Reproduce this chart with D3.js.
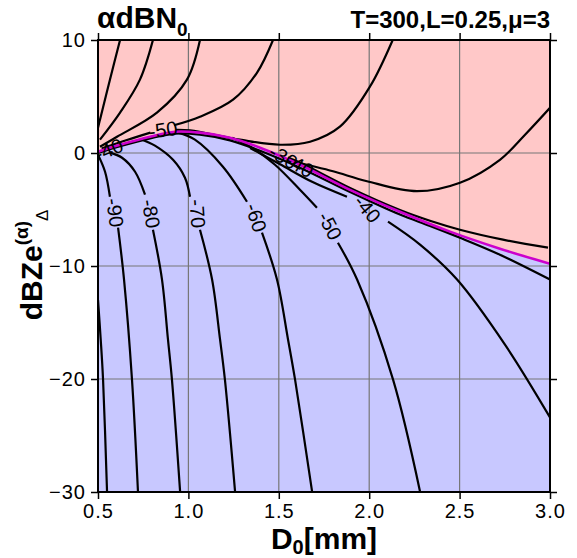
<!DOCTYPE html>
<html lang="en">
<head>
  <meta charset="UTF-8">
  <title>alpha dBN0 contours</title>
  <script src="https://cdn.jsdelivr.net/npm/d3@7"></script>
  <style>
    body { margin: 0; background: #fff; }
    svg text { font-family: "Liberation Sans", Arial, sans-serif; fill: #000; }
  </style>
</head>
<body>
  <svg id="chart" width="577" height="558"></svg>

  <script>
    // axis ticks
    const xTicks = [0.5, 1.0, 1.5, 2.0, 2.5, 3.0];
    const yTicks = [10, 0, -10, -20, -30];
    const xGrid = [1.0, 1.5, 2.0, 2.5];
    const yGrid = [0, -10, -20];

    // magenta curve, also the pink / blue boundary  [D0, dBZe]
    const magentaLine = [[0.5,0.12],[0.622,0.73],[0.788,1.44],[0.926,1.88],[1.064,1.8],[1.23,1.35],
      [1.396,0.47],[1.617,-1.04],[1.894,-3.26],[2.17,-5.2],[2.447,-6.96],[2.723,-8.47],[3.0,-9.8]];

    // black contours, each a list of pieces (gaps where the labels sit)
    const cUnder = [[[0.5,0.0],[0.622,0.6],[0.788,1.3],[0.926,1.72],[1.064,1.62],[1.23,1.12],[1.396,0.2],
      [1.617,-1.3],[1.894,-3.45],[2.17,-5.45],[2.336,-6.45],[2.502,-7.5],[2.723,-9.0],[3.0,-11.2]]];
    const cAbove = [[[1.55,-0.4],[1.617,-0.85],[1.894,-3.1],[2.17,-5.05],[2.336,-6.0],[2.502,-6.79],
      [2.74,-7.67],[2.989,-8.38]]];
    const c100 = [[[0.5,-13.0],[0.515,-16.5],[0.528,-20.06],[0.55,-29.95]]];
    const c90 = [[[0.5,-0.15],[0.539,-1.66],[0.566,-3.87]],
      [[0.611,-6.61],[0.644,-11.2],[0.688,-20.06],[0.721,-29.95]]];
    const c80 = [[[0.566,0.03],[0.633,-0.42],[0.705,-1.66],[0.76,-3.69]],
      [[0.804,-6.79],[0.854,-11.2],[0.887,-16.5],[0.909,-20.06],[0.954,-29.95]]];
    const c70 = [[[0.732,1.27],[0.815,0.65],[0.915,-0.6],[0.981,-2.19],[1.009,-3.87]],
      [[1.064,-6.79],[1.131,-11.2],[1.175,-16.5],[1.202,-20.06],[1.258,-29.95]]];
    const c60 = [[[0.942,1.8],[1.036,1.18],[1.191,-1.21],[1.324,-4.31]],
      [[1.407,-7.05],[1.49,-11.2],[1.551,-16.5],[1.59,-20.06],[1.684,-29.95]]];
    const c50 = [[[1.241,1.35],[1.352,0.47],[1.479,-1.04],[1.617,-3.25],[1.711,-4.84]],
      [[1.827,-7.94],[1.933,-11.2],[2.132,-20.06],[2.281,-29.95]]];
    const c40 = [[[1.341,0.45],[1.507,-1.0],[1.684,-2.55],[1.877,-3.87]],
      [[2.104,-6.08],[2.281,-8.11],[2.486,-11.2],[2.751,-16.96],[3.0,-23.4]]];

    // contours in the pink part
    const p1 = [[[0.622,10],[0.566,6.49],[0.511,2.95],[0.5,2.24]]];
    const p2 = [[[0.804,10],[0.732,6.49],[0.622,3.57],[0.511,1.18]]];
    const p3 = [[[1.064,10],[0.992,6.49],[0.826,3.57],[0.605,1.44],[0.511,0.55]]];
    const p4 = [[[1.468,10],[1.379,7.1],[1.247,4.72],[1.064,3.21],[0.92,2.45]],
      [[0.79,1.8],[0.66,1.15],[0.52,0.4]]];
    const p5 = [[[2.13,10],[2.004,5.87],[1.838,2.33],[1.673,1.0],[1.507,0.73],[1.285,1.18],[1.009,2.0],[0.93,2.05]]];
    const p6 = [[[3.0,4.0],[2.862,1.62],[2.723,-0.6],[2.502,-2.63],[2.264,-3.38],[1.988,-2.5],[1.8,-1.62],
      [1.617,-0.88],[1.55,-0.55]]];

    const contours = [cUnder, cAbove, c100, c90, c80, c70, c60, c50, c40, p1, p2, p3, p4, p5, p6];

    // contour labels: text, anchor [D0, dBZe], rotation
    const labelText = ["-90", "-80", "-70", "-60", "-50", "-40", "-50", "-40", "-30", "-40"];
    const labelAt = [[0.594,-5.28],[0.793,-5.37],[1.05,-5.37],[1.374,-5.72],[1.783,-6.45],[1.99,-4.95],
      [0.86,2.05],[0.56,0.3],[1.525,-0.35],[1.615,-1.1]];
    const labelAngle = [82, 80, 86, 72, 62, 50, -8, -22, 30, 30];

    const svg = d3.select("#chart");
    const x = d3.scaleLinear().domain([0.5, 3.0]).range([98, 550]);
    const y = d3.scaleLinear().domain([-30, 10]).range([492, 40]);

    svg.append("defs").append("clipPath").attr("id", "plot")
      .append("rect")
      .attr("x", x(0.5)).attr("y", y(10))
      .attr("width", x(3.0) - x(0.5)).attr("height", y(-30) - y(10));

    const g = svg.append("g").attr("clip-path", "url(#plot)");

    // blue everywhere, pink above the magenta curve
    g.append("rect")
      .attr("x", x(0.5)).attr("y", y(10))
      .attr("width", x(3.0) - x(0.5)).attr("height", y(-30) - y(10))
      .attr("fill", "#c8c8ff");

    g.append("path")
      .datum(magentaLine)
      .attr("d", d3.area()
        .x(d => x(d[0]))
        .y0(d => y(d[1]))
        .y1(y(10))
        .curve(d3.curveCatmullRom))
      .attr("fill", "#ffc8c8");

    // grid
    g.selectAll(".gx").data(xGrid).join("line")
      .attr("x1", d => x(d)).attr("x2", d => x(d))
      .attr("y1", y(10)).attr("y2", y(-30))
      .attr("stroke", "#777").attr("stroke-width", 1.2);
    g.selectAll(".gy").data(yGrid).join("line")
      .attr("y1", d => y(d)).attr("y2", d => y(d))
      .attr("x1", x(0.5)).attr("x2", x(3.0))
      .attr("stroke", "#777").attr("stroke-width", 1.2);

    const line = d3.line()
      .x(d => x(d[0]))
      .y(d => y(d[1]))
      .curve(d3.curveCatmullRom);

    contours.forEach(c => {
      c.forEach(piece => {
        g.append("path")
          .datum(piece)
          .attr("d", line)
          .attr("fill", "none")
          .attr("stroke", "#000")
          .attr("stroke-width", 2.2);
      });
    });

    g.append("path")
      .datum(magentaLine)
      .attr("d", line)
      .attr("fill", "none")
      .attr("stroke", "#cc00cc")
      .attr("stroke-width", 2.6);

    labelText.forEach((t, i) => {
      g.append("text")
        .attr("transform", `translate(${x(labelAt[i][0])},${y(labelAt[i][1])}) rotate(${labelAngle[i]})`)
        .attr("text-anchor", "middle")
        .attr("dy", "0.35em")
        .style("font-size", "20px")
        .text(t);
    });

    // frame
    svg.append("rect")
      .attr("x", x(0.5)).attr("y", y(10))
      .attr("width", x(3.0) - x(0.5)).attr("height", y(-30) - y(10))
      .attr("fill", "none").attr("stroke", "#000").attr("stroke-width", 2);

    // axes (ticks outward on all four sides)
    const styleAxis = sel => {
      sel.select(".domain").remove();
      sel.selectAll(".tick line").attr("stroke", "#000").attr("stroke-width", 1.5);
      sel.selectAll(".tick text").style("font-size", "20px").style("font-family", '"Liberation Sans", Arial, sans-serif')
        .attr("fill", "#000").style("letter-spacing", "1px");
    };

    svg.append("g").attr("transform", `translate(0,${y(-30)})`)
      .call(d3.axisBottom(x).tickValues(xTicks).tickFormat(d3.format(".1f")).tickSize(7).tickPadding(5))
      .call(styleAxis);
    svg.append("g").attr("transform", `translate(0,${y(10)})`)
      .call(d3.axisTop(x).tickValues(xTicks).tickFormat("").tickSize(7))
      .call(styleAxis);
    svg.append("g").attr("transform", `translate(${x(0.5)},0)`)
      .call(d3.axisLeft(y).tickValues(yTicks).tickFormat(d3.format("d")).tickSize(7).tickPadding(5))
      .call(styleAxis);
    svg.append("g").attr("transform", `translate(${x(3.0)},0)`)
      .call(d3.axisRight(y).tickValues(yTicks).tickFormat("").tickSize(7))
      .call(styleAxis);

    // titles
    const t1 = svg.append("text").attr("x", 97).attr("y", 28)
      .style("font-size", "30px").style("font-weight", "bold");
    t1.append("tspan").text("αdBN");
    t1.append("tspan").attr("dy", 8).style("font-size", "19px").text("0");

    svg.append("text").attr("x", 550).attr("y", 28)
      .attr("text-anchor", "end")
      .style("font-size", "24px").style("font-weight", "bold")
      .text("T=300,L=0.25,μ=3");

    const xt = svg.append("text").attr("x", 324).attr("y", 549)
      .attr("text-anchor", "middle")
      .style("font-size", "30px").style("font-weight", "bold");
    xt.append("tspan").text("D");
    xt.append("tspan").attr("dy", 5).style("font-size", "20px").text("0");
    xt.append("tspan").attr("dy", -5).text("[mm]");

    const yt = svg.append("text")
      .attr("transform", "translate(42,265) rotate(-90)")
      .attr("text-anchor", "middle")
      .style("font-size", "30px").style("font-weight", "bold");
    yt.append("tspan").text("dBZe");
    yt.append("tspan").attr("dy", -14).style("font-size", "19px").text("(α)");
    yt.append("tspan").attr("dy", 20).style("font-size", "17px").style("font-weight", "normal").text("Δ");
  </script>
</body>
</html>
